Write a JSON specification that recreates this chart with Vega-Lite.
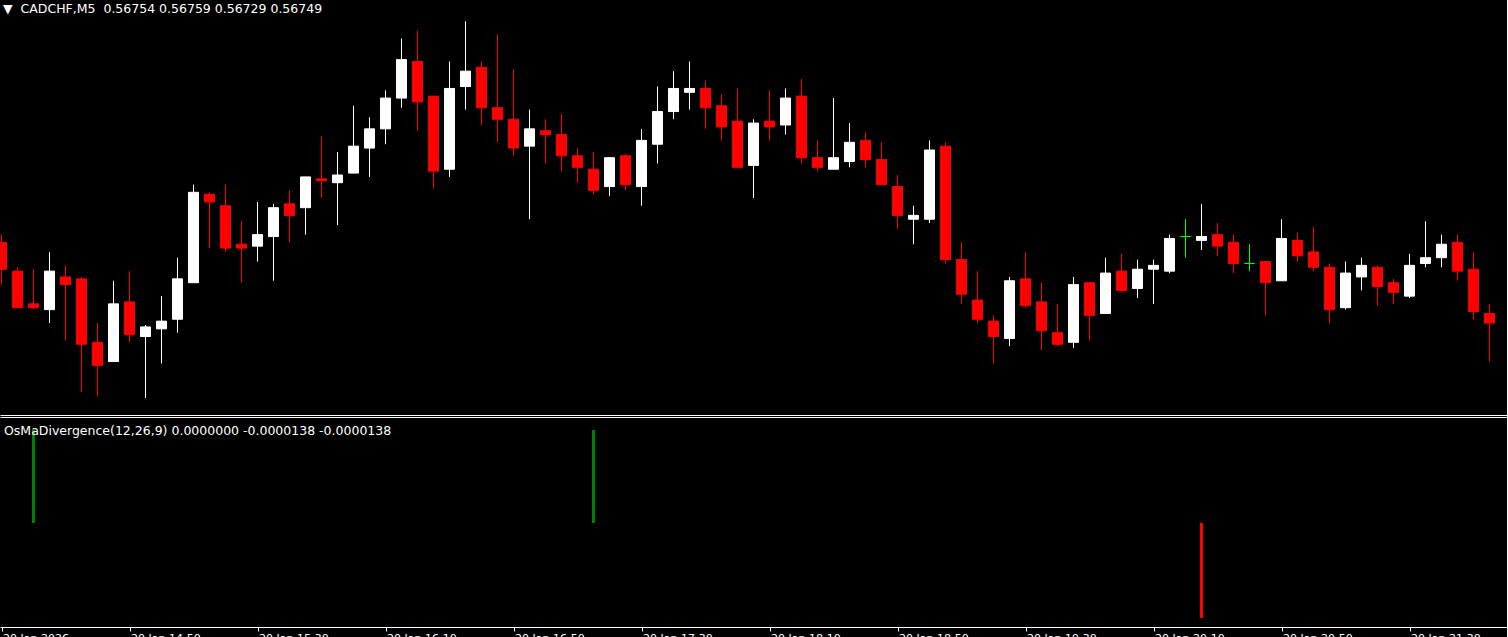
{
  "$schema": "https://vega.github.io/schema/vega-lite/v6.json",
  "usermeta": {"embedOptions": {"actions": false}},
  "background": "#000000",
  "padding": {"left": 0, "top": 0, "right": -1, "bottom": 0},
  "bounds": "flush",
  "spacing": 2,
  "config": {"view": {"stroke": null}, "axis": {"grid": false}},
  "datasets": {
    "candles": [
      {"t": "2026-01-20T14:10:00Z", "o": 0.56791, "h": 0.56795, "l": 0.56769, "c": 0.56777},
      {"t": "2026-01-20T14:15:00Z", "o": 0.56776, "h": 0.56778, "l": 0.56757, "c": 0.56757},
      {"t": "2026-01-20T14:20:00Z", "o": 0.56759, "h": 0.56777, "l": 0.56756, "c": 0.56757},
      {"t": "2026-01-20T14:25:00Z", "o": 0.56756, "h": 0.56786, "l": 0.56749, "c": 0.56776},
      {"t": "2026-01-20T14:30:00Z", "o": 0.56773, "h": 0.56779, "l": 0.56740, "c": 0.56769},
      {"t": "2026-01-20T14:35:00Z", "o": 0.56772, "h": 0.56773, "l": 0.56713, "c": 0.56738},
      {"t": "2026-01-20T14:40:00Z", "o": 0.56739, "h": 0.56749, "l": 0.56711, "c": 0.56727},
      {"t": "2026-01-20T14:45:00Z", "o": 0.56729, "h": 0.56771, "l": 0.56729, "c": 0.56759},
      {"t": "2026-01-20T14:50:00Z", "o": 0.56760, "h": 0.56776, "l": 0.56739, "c": 0.56743},
      {"t": "2026-01-20T14:55:00Z", "o": 0.56742, "h": 0.56748, "l": 0.56710, "c": 0.56747},
      {"t": "2026-01-20T15:00:00Z", "o": 0.56746, "h": 0.56763, "l": 0.56728, "c": 0.56750},
      {"t": "2026-01-20T15:05:00Z", "o": 0.56751, "h": 0.56783, "l": 0.56744, "c": 0.56772},
      {"t": "2026-01-20T15:10:00Z", "o": 0.56770, "h": 0.56821, "l": 0.56770, "c": 0.56817},
      {"t": "2026-01-20T15:15:00Z", "o": 0.56816, "h": 0.56817, "l": 0.56788, "c": 0.56812},
      {"t": "2026-01-20T15:20:00Z", "o": 0.56810, "h": 0.56821, "l": 0.56786, "c": 0.56788},
      {"t": "2026-01-20T15:25:00Z", "o": 0.56790, "h": 0.56802, "l": 0.56770, "c": 0.56788},
      {"t": "2026-01-20T15:30:00Z", "o": 0.56789, "h": 0.56812, "l": 0.56781, "c": 0.56795},
      {"t": "2026-01-20T15:35:00Z", "o": 0.56794, "h": 0.56811, "l": 0.56771, "c": 0.56809},
      {"t": "2026-01-20T15:40:00Z", "o": 0.56811, "h": 0.56818, "l": 0.56791, "c": 0.56805},
      {"t": "2026-01-20T15:45:00Z", "o": 0.56809, "h": 0.56825, "l": 0.56795, "c": 0.56825},
      {"t": "2026-01-20T15:50:00Z", "o": 0.56824, "h": 0.56846, "l": 0.56814, "c": 0.56823},
      {"t": "2026-01-20T15:55:00Z", "o": 0.56822, "h": 0.56838, "l": 0.56800, "c": 0.56826},
      {"t": "2026-01-20T16:00:00Z", "o": 0.56827, "h": 0.56862, "l": 0.56827, "c": 0.56841},
      {"t": "2026-01-20T16:05:00Z", "o": 0.56840, "h": 0.56856, "l": 0.56825, "c": 0.56850},
      {"t": "2026-01-20T16:10:00Z", "o": 0.56850, "h": 0.56870, "l": 0.56842, "c": 0.56866},
      {"t": "2026-01-20T16:15:00Z", "o": 0.56866, "h": 0.56897, "l": 0.56861, "c": 0.56886},
      {"t": "2026-01-20T16:20:00Z", "o": 0.56885, "h": 0.56901, "l": 0.56849, "c": 0.56864},
      {"t": "2026-01-20T16:25:00Z", "o": 0.56867, "h": 0.56867, "l": 0.56819, "c": 0.56828},
      {"t": "2026-01-20T16:30:00Z", "o": 0.56829, "h": 0.56885, "l": 0.56825, "c": 0.56871},
      {"t": "2026-01-20T16:35:00Z", "o": 0.56872, "h": 0.56906, "l": 0.56860, "c": 0.56880},
      {"t": "2026-01-20T16:40:00Z", "o": 0.56882, "h": 0.56885, "l": 0.56852, "c": 0.56861},
      {"t": "2026-01-20T16:45:00Z", "o": 0.56861, "h": 0.56899, "l": 0.56843, "c": 0.56855},
      {"t": "2026-01-20T16:50:00Z", "o": 0.56855, "h": 0.56881, "l": 0.56836, "c": 0.56840},
      {"t": "2026-01-20T16:55:00Z", "o": 0.56841, "h": 0.56860, "l": 0.56803, "c": 0.56850},
      {"t": "2026-01-20T17:00:00Z", "o": 0.56849, "h": 0.56855, "l": 0.56832, "c": 0.56847},
      {"t": "2026-01-20T17:05:00Z", "o": 0.56847, "h": 0.56858, "l": 0.56828, "c": 0.56836},
      {"t": "2026-01-20T17:10:00Z", "o": 0.56836, "h": 0.56840, "l": 0.56822, "c": 0.56830},
      {"t": "2026-01-20T17:15:00Z", "o": 0.56829, "h": 0.56838, "l": 0.56816, "c": 0.56818},
      {"t": "2026-01-20T17:20:00Z", "o": 0.56820, "h": 0.56835, "l": 0.56815, "c": 0.56835},
      {"t": "2026-01-20T17:25:00Z", "o": 0.56836, "h": 0.56837, "l": 0.56818, "c": 0.56821},
      {"t": "2026-01-20T17:30:00Z", "o": 0.56820, "h": 0.56850, "l": 0.56810, "c": 0.56844},
      {"t": "2026-01-20T17:35:00Z", "o": 0.56842, "h": 0.56872, "l": 0.56832, "c": 0.56859},
      {"t": "2026-01-20T17:40:00Z", "o": 0.56859, "h": 0.56880, "l": 0.56855, "c": 0.56871},
      {"t": "2026-01-20T17:45:00Z", "o": 0.56869, "h": 0.56885, "l": 0.56860, "c": 0.56871},
      {"t": "2026-01-20T17:50:00Z", "o": 0.56871, "h": 0.56875, "l": 0.56850, "c": 0.56861},
      {"t": "2026-01-20T17:55:00Z", "o": 0.56862, "h": 0.56868, "l": 0.56844, "c": 0.56851},
      {"t": "2026-01-20T18:00:00Z", "o": 0.56854, "h": 0.56871, "l": 0.56830, "c": 0.56830},
      {"t": "2026-01-20T18:05:00Z", "o": 0.56831, "h": 0.56855, "l": 0.56814, "c": 0.56853},
      {"t": "2026-01-20T18:10:00Z", "o": 0.56854, "h": 0.56870, "l": 0.56844, "c": 0.56851},
      {"t": "2026-01-20T18:15:00Z", "o": 0.56852, "h": 0.56871, "l": 0.56847, "c": 0.56866},
      {"t": "2026-01-20T18:20:00Z", "o": 0.56867, "h": 0.56876, "l": 0.56832, "c": 0.56835},
      {"t": "2026-01-20T18:25:00Z", "o": 0.56835, "h": 0.56844, "l": 0.56828, "c": 0.56830},
      {"t": "2026-01-20T18:30:00Z", "o": 0.56829, "h": 0.56866, "l": 0.56829, "c": 0.56835},
      {"t": "2026-01-20T18:35:00Z", "o": 0.56833, "h": 0.56853, "l": 0.56830, "c": 0.56843},
      {"t": "2026-01-20T18:40:00Z", "o": 0.56844, "h": 0.56848, "l": 0.56830, "c": 0.56834},
      {"t": "2026-01-20T18:45:00Z", "o": 0.56834, "h": 0.56843, "l": 0.56821, "c": 0.56821},
      {"t": "2026-01-20T18:50:00Z", "o": 0.56820, "h": 0.56826, "l": 0.56798, "c": 0.56805},
      {"t": "2026-01-20T18:55:00Z", "o": 0.56803, "h": 0.56810, "l": 0.56790, "c": 0.56805},
      {"t": "2026-01-20T19:00:00Z", "o": 0.56803, "h": 0.56844, "l": 0.56801, "c": 0.56839},
      {"t": "2026-01-20T19:05:00Z", "o": 0.56841, "h": 0.56843, "l": 0.56780, "c": 0.56782},
      {"t": "2026-01-20T19:10:00Z", "o": 0.56782, "h": 0.56791, "l": 0.56759, "c": 0.56764},
      {"t": "2026-01-20T19:15:00Z", "o": 0.56761, "h": 0.56776, "l": 0.56749, "c": 0.56751},
      {"t": "2026-01-20T19:20:00Z", "o": 0.56750, "h": 0.56753, "l": 0.56728, "c": 0.56742},
      {"t": "2026-01-20T19:25:00Z", "o": 0.56741, "h": 0.56773, "l": 0.56737, "c": 0.56771},
      {"t": "2026-01-20T19:30:00Z", "o": 0.56772, "h": 0.56786, "l": 0.56757, "c": 0.56758},
      {"t": "2026-01-20T19:35:00Z", "o": 0.56760, "h": 0.56770, "l": 0.56735, "c": 0.56745},
      {"t": "2026-01-20T19:40:00Z", "o": 0.56744, "h": 0.56759, "l": 0.56737, "c": 0.56738},
      {"t": "2026-01-20T19:45:00Z", "o": 0.56739, "h": 0.56773, "l": 0.56736, "c": 0.56769},
      {"t": "2026-01-20T19:50:00Z", "o": 0.56770, "h": 0.56770, "l": 0.56740, "c": 0.56753},
      {"t": "2026-01-20T19:55:00Z", "o": 0.56754, "h": 0.56783, "l": 0.56754, "c": 0.56775},
      {"t": "2026-01-20T20:00:00Z", "o": 0.56776, "h": 0.56785, "l": 0.56765, "c": 0.56766},
      {"t": "2026-01-20T20:05:00Z", "o": 0.56767, "h": 0.56782, "l": 0.56762, "c": 0.56777},
      {"t": "2026-01-20T20:10:00Z", "o": 0.56777, "h": 0.56782, "l": 0.56759, "c": 0.56779},
      {"t": "2026-01-20T20:15:00Z", "o": 0.56776, "h": 0.56795, "l": 0.56775, "c": 0.56793},
      {"t": "2026-01-20T20:20:00Z", "o": 0.56794, "h": 0.56803, "l": 0.56783, "c": 0.56794},
      {"t": "2026-01-20T20:25:00Z", "o": 0.56792, "h": 0.56811, "l": 0.56787, "c": 0.56794},
      {"t": "2026-01-20T20:30:00Z", "o": 0.56795, "h": 0.56801, "l": 0.56784, "c": 0.56789},
      {"t": "2026-01-20T20:35:00Z", "o": 0.56791, "h": 0.56795, "l": 0.56775, "c": 0.56780},
      {"t": "2026-01-20T20:40:00Z", "o": 0.56780, "h": 0.56790, "l": 0.56776, "c": 0.56780},
      {"t": "2026-01-20T20:45:00Z", "o": 0.56781, "h": 0.56781, "l": 0.56753, "c": 0.56770},
      {"t": "2026-01-20T20:50:00Z", "o": 0.56771, "h": 0.56803, "l": 0.56771, "c": 0.56793},
      {"t": "2026-01-20T20:55:00Z", "o": 0.56792, "h": 0.56796, "l": 0.56781, "c": 0.56784},
      {"t": "2026-01-20T21:00:00Z", "o": 0.56786, "h": 0.56799, "l": 0.56776, "c": 0.56778},
      {"t": "2026-01-20T21:05:00Z", "o": 0.56778, "h": 0.56780, "l": 0.56749, "c": 0.56756},
      {"t": "2026-01-20T21:10:00Z", "o": 0.56757, "h": 0.56781, "l": 0.56756, "c": 0.56775},
      {"t": "2026-01-20T21:15:00Z", "o": 0.56773, "h": 0.56783, "l": 0.56766, "c": 0.56779},
      {"t": "2026-01-20T21:20:00Z", "o": 0.56778, "h": 0.56779, "l": 0.56758, "c": 0.56768},
      {"t": "2026-01-20T21:25:00Z", "o": 0.56770, "h": 0.56772, "l": 0.56759, "c": 0.56765},
      {"t": "2026-01-20T21:30:00Z", "o": 0.56763, "h": 0.56785, "l": 0.56762, "c": 0.56779},
      {"t": "2026-01-20T21:35:00Z", "o": 0.56780, "h": 0.56802, "l": 0.56778, "c": 0.56783},
      {"t": "2026-01-20T21:40:00Z", "o": 0.56783, "h": 0.56795, "l": 0.56778, "c": 0.56790},
      {"t": "2026-01-20T21:45:00Z", "o": 0.56791, "h": 0.56795, "l": 0.56771, "c": 0.56776},
      {"t": "2026-01-20T21:50:00Z", "o": 0.56777, "h": 0.56786, "l": 0.56751, "c": 0.56755},
      {"t": "2026-01-20T21:55:00Z", "o": 0.56754, "h": 0.56759, "l": 0.56729, "c": 0.56749}
    ],
    "osma": [
      {"t": "2026-01-20T14:20:00Z", "v": 1.0},
      {"t": "2026-01-20T17:15:00Z", "v": 1.0},
      {"t": "2026-01-20T20:25:00Z", "v": -1.02}
    ]
  },
  "vconcat": [
    {
      "width": 1508,
      "height": 415,
      "title": {
        "text": "▼\u00a0 CADCHF,M5\u00a0 0.56754 0.56759 0.56729 0.56749",
        "orient": "top", "anchor": "start", "frame": "group",
        "offset": -25, "baseline": "alphabetic", "dx": 3,
        "color": "#ffffff", "font": "DejaVu Sans", "fontSize": 12.5, "fontWeight": "normal"
      },
      "data": {"name": "candles"},
      "encoding": {
        "x": {
          "field": "t", "type": "temporal",
          "scale": {"type": "utc", "padding": 0, "domain": [
            {"year": 2026, "month": 1, "date": 20, "hours": 14, "minutes": 9, "seconds": 31, "milliseconds": 875, "utc": true},
            {"year": 2026, "month": 1, "date": 20, "hours": 22, "minutes": 0, "seconds": 46, "milliseconds": 875, "utc": true}
          ]},
          "axis": {"orient": "bottom", "domain": true, "domainColor": "#ffffff", "domainWidth": 1, "ticks": false, "labels": false, "title": null, "grid": false}
        }
      },
      "layer": [
        {
          "mark": {"type": "rule", "strokeWidth": 1, "clip": true},
          "encoding": {
            "y": {"field": "l", "type": "quantitative", "scale": {"domain": [0.567012, 0.56917], "nice": false, "zero": false}, "axis": null},
            "y2": {"field": "h"},
            "color": {"condition": [{"test": "datum.c > datum.o", "value": "#ffffff"}, {"test": "datum.c == datum.o", "value": "#00ff00"}], "value": "#ff0000"}
          }
        },
        {
          "mark": {"type": "bar", "width": 10, "strokeWidth": 1, "clip": true},
          "encoding": {
            "y": {"field": "o", "type": "quantitative", "scale": {"domain": [0.567012, 0.56917], "nice": false, "zero": false}, "axis": null},
            "y2": {"field": "c"},
            "fill": {"condition": [{"test": "datum.c > datum.o", "value": "#ffffff"}, {"test": "datum.c == datum.o", "value": "#00ff00"}], "value": "#ff0000"},
            "stroke": {"condition": [{"test": "datum.c > datum.o", "value": "#ffffff"}, {"test": "datum.c == datum.o", "value": "#00ff00"}], "value": "#ff0000"}
          }
        }
      ]
    },
    {
      "width": 1508,
      "height": 210,
      "title": {
        "text": "OsMaDivergence(12,26,9) 0.0000000 -0.0000138 -0.0000138",
        "orient": "top", "anchor": "start", "frame": "group",
        "offset": -30, "baseline": "alphabetic", "dx": 4,
        "color": "#ffffff", "font": "DejaVu Sans", "fontSize": 12.5, "fontWeight": "normal"
      },
      "data": {"name": "osma"},
      "encoding": {
        "y": {"field": "v", "type": "quantitative", "scale": {"domain": [-1.118, 1.14], "nice": false, "zero": false}, "axis": null},
        "color": {"condition": {"test": "datum.v > 0", "value": "#008000"}, "value": "#ff0000"}
      },
      "layer": [
        {
          "mark": {"type": "bar", "width": 3},
          "encoding": {
            "x": {
              "field": "t", "type": "temporal",
              "scale": {"type": "utc", "padding": 0, "domain": [
                {"year": 2026, "month": 1, "date": 20, "hours": 14, "minutes": 9, "seconds": 31, "milliseconds": 875, "utc": true},
                {"year": 2026, "month": 1, "date": 20, "hours": 22, "minutes": 0, "seconds": 46, "milliseconds": 875, "utc": true}
              ]},
              "axis": {"orient": "top", "domain": true, "domainColor": "#ffffff", "ticks": false, "labels": false, "title": null, "grid": false}
            }
          }
        },
        {
          "mark": {"type": "bar", "width": 3, "opacity": 0},
          "encoding": {
            "x": {
              "field": "t", "type": "temporal",
              "scale": {"type": "utc", "padding": 0},
              "axis": {
                "orient": "bottom",
                "values": [
                  {"year": 2026, "month": 1, "date": 20, "hours": 14, "minutes": 10, "utc": true},
                  {"year": 2026, "month": 1, "date": 20, "hours": 14, "minutes": 50, "utc": true},
                  {"year": 2026, "month": 1, "date": 20, "hours": 15, "minutes": 30, "utc": true},
                  {"year": 2026, "month": 1, "date": 20, "hours": 16, "minutes": 10, "utc": true},
                  {"year": 2026, "month": 1, "date": 20, "hours": 16, "minutes": 50, "utc": true},
                  {"year": 2026, "month": 1, "date": 20, "hours": 17, "minutes": 30, "utc": true},
                  {"year": 2026, "month": 1, "date": 20, "hours": 18, "minutes": 10, "utc": true},
                  {"year": 2026, "month": 1, "date": 20, "hours": 18, "minutes": 50, "utc": true},
                  {"year": 2026, "month": 1, "date": 20, "hours": 19, "minutes": 30, "utc": true},
                  {"year": 2026, "month": 1, "date": 20, "hours": 20, "minutes": 10, "utc": true},
                  {"year": 2026, "month": 1, "date": 20, "hours": 20, "minutes": 50, "utc": true},
                  {"year": 2026, "month": 1, "date": 20, "hours": 21, "minutes": 30, "utc": true}
                ],
                "labelExpr": "utcFormat(datum.value, '%H:%M') == '14:10' ? '20 Jan 2026' : utcFormat(datum.value, '%d %b %H:%M')",
                "domain": true, "domainColor": "#ffffff",
                "ticks": true, "tickColor": "#ffffff", "tickSize": 4,
                "labels": true, "labelColor": "#ffffff", "labelFont": "DejaVu Sans", "labelFontSize": 11,
                "labelAlign": "left", "labelBaseline": "top", "labelPadding": 1, "labelOffset": 1,
                "labelOverlap": false, "labelFlush": false, "labelBound": false,
                "title": null, "grid": false
              }
            }
          }
        }
      ],
      "resolve": {"axis": {"x": "independent"}}
    }
  ]
}
